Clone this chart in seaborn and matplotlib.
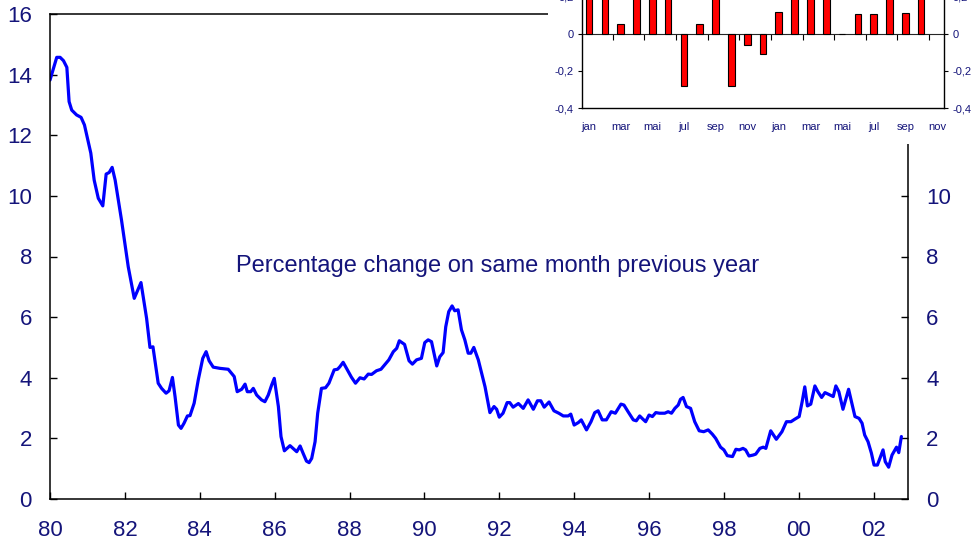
import numpy as np
import pandas as pd
import matplotlib
matplotlib.use("Agg")
import matplotlib.pyplot as plt
from matplotlib.patches import Rectangle
import seaborn as sns

# Main series: 12-month change in consumer prices (decimal year, percent)
years = [
    1980.00, 1980.18, 1980.27, 1980.36, 1980.45, 1980.51, 1980.58, 1980.71, 1980.83, 1980.92,
    1981.02, 1981.09, 1981.18, 1981.29, 1981.41, 1981.50, 1981.58, 1981.66, 1981.74, 1981.91,
    1982.09, 1982.25, 1982.43, 1982.58, 1982.67, 1982.75, 1982.89, 1982.98, 1983.10, 1983.18,
    1983.27, 1983.34, 1983.43, 1983.50, 1983.58, 1983.67, 1983.74, 1983.85, 1983.96, 1984.08,
    1984.17, 1984.25, 1984.36, 1984.54, 1984.76, 1984.92, 1985.00, 1985.12, 1985.21, 1985.27,
    1985.36, 1985.43, 1985.52, 1985.65, 1985.74, 1985.83, 1985.92, 1985.99, 1986.10, 1986.17,
    1986.26, 1986.41, 1986.59, 1986.68, 1986.76, 1986.85, 1986.92, 1986.99, 1987.08, 1987.15,
    1987.25, 1987.36, 1987.45, 1987.59, 1987.68, 1987.74, 1987.83, 1987.92, 1988.05, 1988.16,
    1988.28, 1988.39, 1988.50, 1988.59, 1988.72, 1988.84, 1988.95, 1989.05, 1989.17, 1989.26,
    1989.33, 1989.47, 1989.59, 1989.68, 1989.79, 1989.92, 1990.01, 1990.10, 1990.19, 1990.33,
    1990.41, 1990.50, 1990.57, 1990.65, 1990.74, 1990.81, 1990.90, 1990.99, 1991.08, 1991.17,
    1991.24, 1991.32, 1991.44, 1991.62, 1991.75, 1991.86, 1991.93, 1992.00, 1992.10, 1992.21,
    1992.28, 1992.37, 1992.51, 1992.64, 1992.77, 1992.91, 1993.02, 1993.11, 1993.20, 1993.33,
    1993.46, 1993.59, 1993.71, 1993.84, 1993.91, 1994.00, 1994.11, 1994.19, 1994.33, 1994.45,
    1994.55, 1994.64, 1994.75, 1994.86, 1994.99, 1995.10, 1995.25, 1995.33, 1995.44, 1995.58,
    1995.66, 1995.75, 1995.84, 1995.91, 1996.00, 1996.09, 1996.18, 1996.28, 1996.42, 1996.51,
    1996.60, 1996.69, 1996.78, 1996.84, 1996.91, 1997.00, 1997.11, 1997.22, 1997.34, 1997.46,
    1997.58, 1997.69, 1997.78, 1997.91, 1998.00, 1998.09, 1998.23, 1998.32, 1998.41, 1998.51,
    1998.58, 1998.67, 1998.78, 1998.85, 1998.96, 1999.05, 1999.12, 1999.25, 1999.40, 1999.55,
    1999.67, 1999.79, 1999.89, 2000.01, 2000.09, 2000.16, 2000.23, 2000.32, 2000.43, 2000.51,
    2000.61, 2000.70, 2000.80, 2000.92, 2000.99, 2001.07, 2001.18, 2001.33, 2001.50, 2001.61,
    2001.69, 2001.76, 2001.85, 2001.94, 2002.01, 2002.10, 2002.25, 2002.31, 2002.40, 2002.49,
    2002.61, 2002.67, 2002.74,
]
cpi_change = [
    13.82, 14.57, 14.57, 14.46, 14.24, 13.11, 12.83, 12.67, 12.59, 12.34,
    11.79, 11.41, 10.52, 9.92, 9.67, 10.72, 10.77, 10.94, 10.52, 9.20,
    7.66, 6.62, 7.14, 5.96, 5.00, 5.02, 3.82, 3.65, 3.49, 3.57,
    4.01, 3.38, 2.44, 2.33, 2.50, 2.74, 2.75, 3.16, 3.93, 4.64,
    4.86, 4.56, 4.35, 4.31, 4.28, 4.04, 3.54, 3.62, 3.79, 3.54,
    3.54, 3.65, 3.43, 3.27, 3.21, 3.43, 3.76, 3.98, 3.05, 2.06,
    1.59, 1.76, 1.56, 1.75, 1.51, 1.25, 1.20, 1.34, 1.89, 2.83,
    3.65, 3.67, 3.82, 4.26, 4.28, 4.36, 4.51, 4.31, 4.02, 3.82,
    4.00, 3.96, 4.12, 4.11, 4.23, 4.28, 4.44, 4.59, 4.86, 4.97,
    5.22, 5.10, 4.56, 4.45, 4.59, 4.64, 5.16, 5.25, 5.19, 4.39,
    4.69, 4.83, 5.68, 6.18, 6.37, 6.21, 6.24, 5.58, 5.25, 4.81,
    4.81, 5.00, 4.59, 3.70, 2.85, 3.05, 2.96, 2.70, 2.83, 3.18,
    3.18, 3.03, 3.15, 2.99, 3.27, 2.96, 3.24, 3.24, 3.03, 3.20,
    2.91, 2.83, 2.74, 2.74, 2.80, 2.44, 2.52, 2.61, 2.28, 2.55,
    2.85, 2.91, 2.61, 2.61, 2.88, 2.83, 3.13, 3.10, 2.88, 2.61,
    2.58, 2.74, 2.63, 2.55, 2.77, 2.72, 2.85, 2.83, 2.83, 2.88,
    2.83, 2.99, 3.10, 3.29, 3.35, 3.05, 2.99, 2.55, 2.25, 2.22,
    2.28, 2.14, 2.00, 1.71, 1.62, 1.43, 1.40, 1.64, 1.62, 1.67,
    1.62, 1.42, 1.45, 1.48, 1.67, 1.71, 1.67, 2.25, 1.97, 2.22,
    2.55, 2.55, 2.63, 2.72, 3.21, 3.70, 3.07, 3.13, 3.73, 3.54,
    3.35, 3.51, 3.45, 3.38, 3.73, 3.54, 2.96, 3.62, 2.72, 2.66,
    2.50, 2.11, 1.89, 1.51, 1.12, 1.12, 1.62, 1.23, 1.05, 1.45,
    1.71, 1.53, 2.06,
]

year_ticks = list(range(1980, 2003, 2))
year_labels = ["80", "82", "84", "86", "88", "90", "92", "94", "96", "98", "00", "02"]
main_ticks = list(range(0, 17, 2))

# Inset: monthly change, Jan 2001 - Nov 2002
months = ["jan", "feb", "mar", "apr", "mai", "jun", "jul", "aug", "sep", "okt", "nov", "des",
          "jan", "feb", "mar", "apr", "mai", "jun", "jul", "aug", "sep", "okt", "nov"]
monthly_change = [0.3, 0.3, 0.055, 0.3, 0.3, 0.3, -0.28, 0.055, 0.3, -0.28, -0.057, -0.11,
                  0.117, 0.3, 0.3, 0.3, 0.0, 0.11, 0.11, 0.3, 0.113, 0.3, np.nan]
inset_ticks = [-0.4, -0.2, 0.0, 0.2, 0.4]
inset_labels = ["-0,4", "-0,2", "0", "0,2", "0,4"]

navy = "#14147a"

sns.set_style("white")
plt.rcParams["font.family"] = ["Liberation Sans", "DejaVu Sans"]

fig = plt.figure(figsize=(9.76, 5.47), dpi=100)
ax = fig.add_axes([50 / 976, 48 / 547, 858 / 976, 485 / 547])

df = pd.DataFrame({"year": years, "change": cpi_change})
sns.lineplot(data=df, x="year", y="change", color="#0000ff", linewidth=2.3, sort=False, ax=ax)

ax.set_xlim(1980, 2002.917)
ax.set_ylim(0, 16)
ax.set_xticks(year_ticks)
ax.set_xticklabels(year_labels)
ax.set_yticks(main_ticks)
ax.set_xlabel("")
ax.set_ylabel("")
for s in ax.spines.values():
    s.set_color("black")
    s.set_linewidth(1.1)
ax.tick_params(axis="y", direction="in", length=5, width=1, color="black",
               left=True, right=True, labelleft=True, labelright=True,
               labelsize=16, labelcolor=navy, pad=13)
ax.tick_params(axis="x", direction="in", length=5, width=1, color="black",
               bottom=True, labelsize=16, labelcolor=navy, pad=15)

ax.text(1991.96, 7.7, "Percentage change on same month previous year",
        ha="center", va="center", fontsize=17, color=navy)

# white block behind the inset
fig.patches.append(Rectangle((548 / 976, (547 - 144) / 547), 1, 1, transform=fig.transFigure,
                             facecolor="white", edgecolor="none", zorder=5))

ax2 = fig.add_axes([582 / 976, (547 - 108) / 547, 362 / 976, 148 / 547], zorder=10)
bars = pd.DataFrame({"idx": range(len(months)), "change": monthly_change})
sns.barplot(data=bars, x="idx", y="change", order=list(range(len(months))), color="#ff0000",
            saturation=1, width=0.42, edgecolor="black", linewidth=0.8, ax=ax2)
ax2.set_xlim(-0.45, len(months) - 0.55)
ax2.set_ylim(-0.4, 0.4)
ax2.set_xticks(range(0, len(months), 2))
ax2.set_xticklabels(months[::2])
ax2.set_yticks(inset_ticks)
ax2.set_yticklabels(inset_labels)
ax2.set_xlabel("")
ax2.set_ylabel("")
for s in ax2.spines.values():
    s.set_color("black")
    s.set_linewidth(1.0)
ax2.tick_params(axis="x", length=0, labelsize=8, labelcolor=navy, pad=10)
ax2.tick_params(axis="y", direction="out", length=3, width=0.8, color="black",
                left=True, right=True, labelleft=True, labelright=True,
                labelsize=8, labelcolor=navy, pad=3)

# zero line with small ticks between month pairs
zero_ticks = np.arange(1.5, len(months) - 1, 2)
zero = ax2.secondary_xaxis(0.5)
zero.set_xticks(zero_ticks)
zero.set_xticklabels([""] * len(zero_ticks))
zero.tick_params(direction="in", length=4, width=0.8, color="black")
zero.spines["bottom"].set_color("#333333")
zero.spines["bottom"].set_linewidth(1.0)

fig.savefig("out.png", dpi=100)
